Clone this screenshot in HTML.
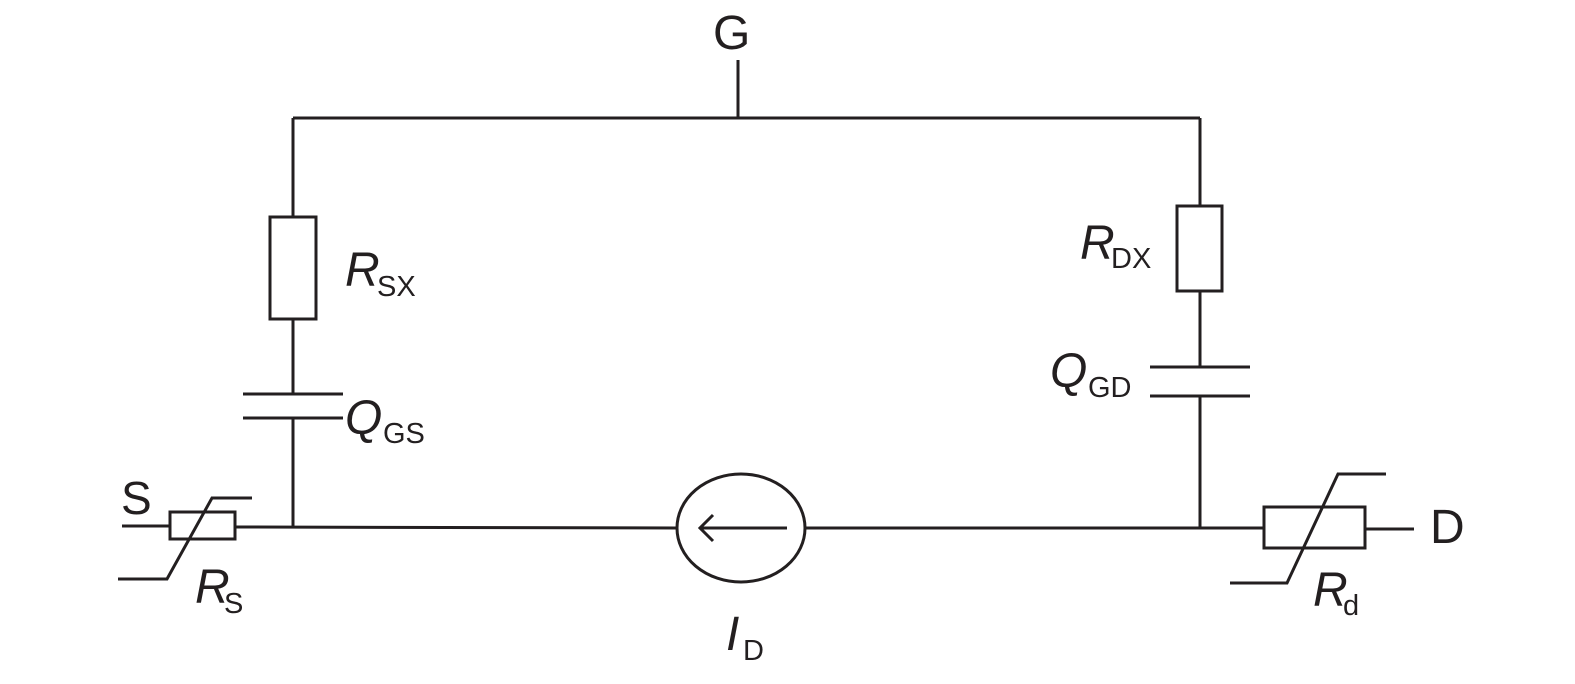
<!DOCTYPE html>
<html><head><style>
html,body{margin:0;padding:0;background:#fff;}
svg text{font-family:"Liberation Sans",sans-serif;fill:#231f20;}
</style></head><body>
<svg width="1575" height="679" viewBox="0 0 1575 679" xmlns="http://www.w3.org/2000/svg">
<g stroke="#231f20" stroke-width="3" fill="none">
<!-- top wire -->
<line x1="293" y1="118" x2="1200" y2="118"/>
<line x1="738" y1="60" x2="738" y2="118"/>
<!-- left branch -->
<line x1="293" y1="118" x2="293" y2="217"/>
<rect x="270" y="217" width="46" height="102"/>
<line x1="293" y1="319" x2="293" y2="394"/>
<line x1="243" y1="394" x2="343" y2="394"/>
<line x1="243" y1="418" x2="343" y2="418"/>
<line x1="293" y1="418" x2="293" y2="527"/>
<!-- right branch -->
<line x1="1200" y1="118" x2="1200" y2="206"/>
<rect x="1177" y="206" width="45" height="85"/>
<line x1="1200" y1="291" x2="1200" y2="367"/>
<line x1="1150" y1="367" x2="1250" y2="367"/>
<line x1="1150" y1="396" x2="1250" y2="396"/>
<line x1="1200" y1="396" x2="1200" y2="528"/>
<!-- bottom wire -->
<line x1="122" y1="526" x2="170" y2="526"/>
<rect x="170" y="512" width="65" height="27"/>
<polyline points="118,579 167,579 212,498 252,498"/>
<line x1="235" y1="527" x2="677" y2="528"/>
<ellipse cx="741" cy="528" rx="64" ry="54"/>
<line x1="700" y1="528" x2="787" y2="528"/>
<polyline points="713,515 700,528 713,541"/>
<line x1="805" y1="528" x2="1264" y2="528"/>
<rect x="1264" y="507" width="101" height="41"/>
<polyline points="1230,583 1287,583 1338,474 1386,474"/>
<line x1="1365" y1="529" x2="1414" y2="529"/>
</g>
<text x="713" y="49" font-size="48">G</text>
<text x="121" y="514" font-size="46">S</text>
<text x="1430" y="543" font-size="48">D</text>
<text x="345" y="286" font-size="48" font-style="italic">R</text>
<text x="377" y="296" font-size="29">SX</text>
<text x="345" y="434" font-size="48" font-style="italic">Q</text>
<text x="383" y="443" font-size="29">GS</text>
<text x="1080" y="259" font-size="48" font-style="italic">R</text>
<text x="1111" y="268" font-size="29">DX</text>
<text x="1050" y="387" font-size="48" font-style="italic">Q</text>
<text x="1088" y="397" font-size="29">GD</text>
<text x="195" y="603" font-size="48" font-style="italic">R</text>
<text x="224" y="613" font-size="29">S</text>
<text x="1313" y="606" font-size="48" font-style="italic">R</text>
<text x="1343" y="615" font-size="29">d</text>
<text x="726" y="650" font-size="48" font-style="italic">I</text>
<text x="743" y="660" font-size="29">D</text>
</svg>
</body></html>
